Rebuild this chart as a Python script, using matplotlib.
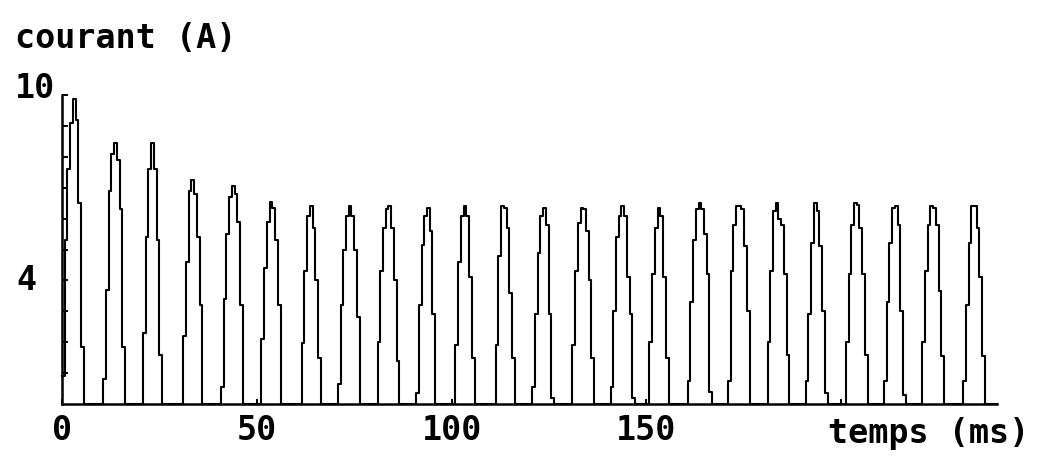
import matplotlib
matplotlib.use('Agg')
import matplotlib.pyplot as plt

plt.rcParams['font.family'] = 'DejaVu Sans Mono'
plt.rcParams['font.weight'] = 'bold'

# recorder sampling step (ms)
dt = 0.7

# start of each current pulse (ms)
pulse_start = [0.0, 10.6, 20.8, 31.1, 40.8, 51.2, 61.5, 70.8, 81.0, 90.9,
               101.0, 111.3, 120.7, 131.0, 140.8, 150.8, 160.6, 170.9,
               181.1, 190.9, 201.2, 211.0, 220.8, 231.3]

# sampled current values inside each pulse (A)
pulse_levels = [
    [0.9, 5.3, 7.6, 9.1, 9.86, 9.2, 6.5, 1.85],
    [0.8, 3.7, 6.9, 8.1, 8.45, 7.9, 6.3, 1.85],
    [2.3, 5.4, 7.6, 8.45, 7.6, 5.3, 1.6],
    [2.2, 4.6, 6.9, 7.25, 6.8, 5.4, 3.2],
    [0.55, 3.4, 5.5, 6.7, 7.05, 6.8, 5.9, 3.2],
    [2.1, 4.4, 5.9, 6.55, 6.35, 5.3, 3.2],
    [1.96, 4.3, 6.1, 6.4, 5.7, 4.0, 1.5],
    [0.66, 3.2, 5.0, 6.1, 6.4, 6.1, 5.0, 2.8],
    [2.0, 4.3, 5.7, 6.3, 6.4, 5.7, 4.0, 1.4],
    [0.35, 3.2, 5.15, 6.1, 6.35, 5.6, 2.9],
    [1.9, 4.6, 6.1, 6.4, 6.1, 4.1, 1.5],
    [1.9, 4.8, 6.4, 6.35, 5.7, 3.6, 1.5],
    [0.55, 2.9, 4.9, 6.1, 6.35, 5.8, 2.9, 0.2],
    [1.9, 4.3, 5.85, 6.35, 6.3, 5.6, 4.0, 1.5],
    [0.55, 3.0, 5.4, 6.1, 6.4, 6.1, 4.1, 2.9, 0.2],
    [2.0, 4.2, 5.7, 6.35, 6.1, 4.1, 1.5],
    [0.75, 3.3, 5.3, 6.3, 6.5, 6.3, 5.5, 4.2, 0.4],
    [0.75, 4.3, 5.8, 6.4, 6.4, 6.3, 5.1, 3.0],
    [2.0, 4.3, 6.25, 6.5, 6.0, 5.8, 4.2, 1.6],
    [0.75, 2.9, 5.2, 6.5, 6.25, 5.1, 3.0, 0.35],
    [2.0, 4.2, 5.8, 6.5, 6.45, 5.7, 4.2, 1.6],
    [0.75, 3.3, 5.2, 6.35, 6.4, 5.8, 3.0, 0.3],
    [2.0, 4.3, 5.8, 6.4, 6.35, 5.8, 3.65, 1.55],
    [0.75, 3.2, 5.2, 6.4, 6.4, 5.7, 4.1, 1.55],
]

x_ticks = [0, 50, 100, 150, 200]
x_tick_labels = ['0', '50', '100', '150', '']
y_ticks = [1, 2, 3, 4, 5, 6, 7, 8, 9, 10]

# staircase trace: each pulse returns to zero after its last sample
t = []
cur = []
for t0, levels in zip(pulse_start, pulse_levels):
    for j, v in enumerate(levels):
        t.append(t0 + j * dt)
        cur.append(v)
    t.append(t0 + len(levels) * dt)
    cur.append(0.0)
t.append(240)
cur.append(0.0)

fig = plt.figure(figsize=(10.39, 4.58), dpi=100)
ax = fig.add_axes([62 / 1039, 1 - 404 / 458, 935 / 1039, 309 / 458])

ax.step(t, cur, where='post', color='black', lw=1.5, clip_on=False)

ax.set_xlim(0, 240)
ax.set_ylim(0, 10)
ax.spines['top'].set_visible(False)
ax.spines['right'].set_visible(False)
ax.spines['left'].set_linewidth(1.8)
ax.spines['bottom'].set_linewidth(1.8)

ax.set_xticks(x_ticks, x_tick_labels)
ax.tick_params(axis='x', direction='in', length=3.5, width=1.4, pad=7,
               labelsize=24)
ax.set_yticks(y_ticks, [''] * len(y_ticks))
ax.tick_params(axis='y', direction='in', length=4.5, width=1.4)

ax.annotate('4', xy=(0, 4), xycoords=('axes fraction', 'data'),
            xytext=(-18.5, 0), textcoords='offset points',
            ha='right', va='center', fontsize=24)
ax.annotate('10', xy=(0, 10), xycoords=('axes fraction', 'data'),
            xytext=(-5, 4.5), textcoords='offset points',
            ha='right', va='center', fontsize=24)

fig.text(15 / 1039, 1 - 38 / 458, 'courant (A)', ha='left', va='center',
         fontsize=24)
fig.text(828 / 1039, 1 - 434 / 458, 'temps (ms)', ha='left', va='center',
         fontsize=24)

fig.savefig('out.png', dpi=100, facecolor='white')
